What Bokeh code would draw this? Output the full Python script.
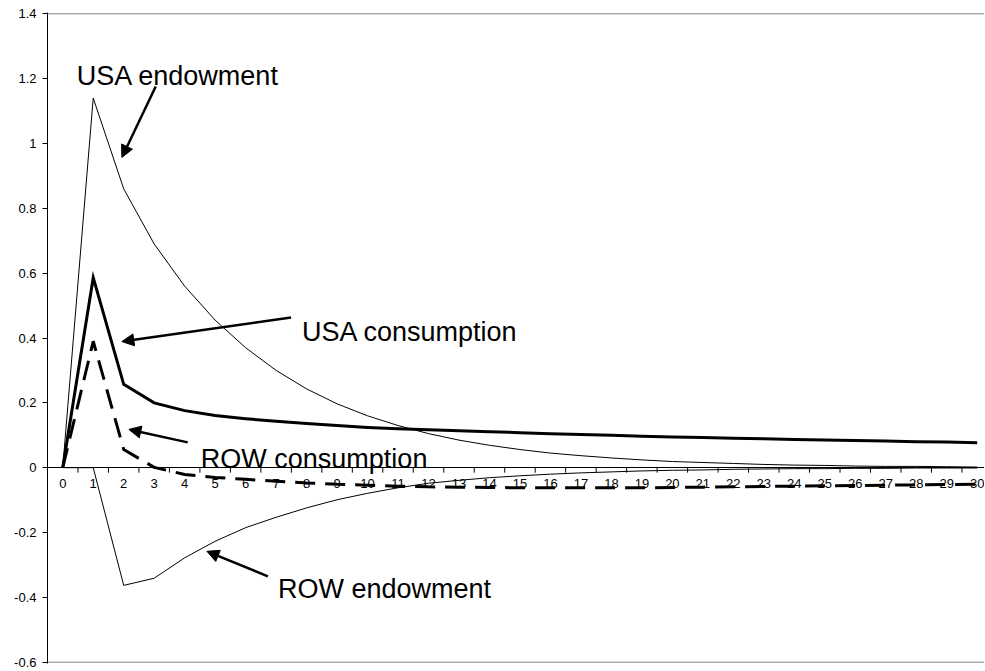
from bokeh.plotting import figure
from bokeh.models import (ColumnDataSource, LinearAxis, FixedTicker, Span, Arrow,
                          NormalHead, CustomJSTickFormatter, Range1d)
from bokeh.core.properties import value
from bokeh.embed import file_html
from bokeh.resources import INLINE

# ---- data ----
periods = list(range(0, 31))

usa_endowment = [0, 1.14, 0.86, 0.69, 0.56, 0.455, 0.37, 0.30, 0.243, 0.197, 0.16,
                 0.13, 0.105, 0.085, 0.069, 0.056, 0.045, 0.037, 0.03, 0.024, 0.019,
                 0.016, 0.013, 0.01, 0.008, 0.007, 0.005, 0.004, 0.004, 0.003, 0.002]

usa_consumption = [0, 0.586, 0.257, 0.200, 0.176, 0.161, 0.151, 0.143, 0.136, 0.130, 0.124,
                   0.120, 0.117, 0.114, 0.111, 0.108, 0.105, 0.102, 0.100, 0.097, 0.095,
                   0.093, 0.091, 0.089, 0.087, 0.085, 0.084, 0.082, 0.080, 0.079, 0.077]

row_consumption = [0, 0.39, 0.056, 0.001, -0.021, -0.030, -0.036, -0.042, -0.047, -0.051, -0.054,
                   -0.057, -0.059, -0.060, -0.061, -0.062, -0.062, -0.062, -0.062, -0.062, -0.061,
                   -0.060, -0.059, -0.058, -0.057, -0.056, -0.055, -0.054, -0.053, -0.052, -0.051]

row_endowment = [0, 0, -0.363, -0.341, -0.278, -0.227, -0.185, -0.153, -0.124, -0.099, -0.079,
                 -0.062, -0.048, -0.039, -0.031, -0.025, -0.020, -0.016, -0.013, -0.010, -0.008,
                 -0.007, -0.005, -0.004, -0.003, -0.003, -0.002, -0.002, -0.001, -0.001, -0.001]

y_ticks = [-0.6, -0.4, -0.2, 0, 0.2, 0.4, 0.6, 0.8, 1.0, 1.2, 1.4]

# annotation texts and positions (data units)
note_text = ["USA endowment", "USA consumption", "ROW consumption", "ROW endowment"]
note_x = [0.46, 7.85, 4.53, 7.06]
note_y = [1.207, 0.417, 0.028, -0.373]

arrow_x_start = [3.05, 7.49, 4.10, 6.73]
arrow_y_start = [1.176, 0.463, 0.078, -0.335]
arrow_x_end = [1.94, 1.94, 2.17, 4.73]
arrow_y_end = [0.957, 0.389, 0.118, -0.258]

FONT = "Liberation Sans"
Y0, Y1 = -0.604, 1.404
FRAME_H = 651

p = figure(frame_width=937, frame_height=FRAME_H,
           x_range=Range1d(-0.5, 30.24), y_range=Range1d(Y0, Y1),
           x_axis_type=None, output_backend="svg", toolbar_location=None,
           min_border_left=47, min_border_right=0, min_border_top=12, min_border_bottom=7,
           background_fill_color="white", border_fill_color="white")
p.outline_line_color = None
p.xgrid.visible = False
p.ygrid.visible = False

# y axis
yax = p.yaxis[0]
yax.ticker = FixedTicker(ticks=y_ticks)
yax.formatter = CustomJSTickFormatter(code="return String(Math.round(tick*10)/10);")
yax.major_tick_out = 5
yax.major_tick_in = 0
yax.minor_tick_line_color = None
yax.axis_line_color = "black"
yax.major_tick_line_color = "black"
yax.major_label_text_font = FONT
yax.major_label_text_font_size = "13px"
yax.major_label_text_color = "black"
yax.major_label_standoff = 6

# plot area border lines (top and bottom)
p.add_layout(Span(location=y_ticks[-1], dimension="width", line_color="#808080", line_width=1))
p.add_layout(Span(location=y_ticks[0], dimension="width", line_color="#808080", line_width=1))

# x axis crossing at zero: labels at categories (drawn beneath the series)
xl = LinearAxis(fixed_location=0, ticker=FixedTicker(ticks=periods), level="underlay")
xl.major_tick_line_color = None
xl.major_tick_out = 0
xl.major_tick_in = 0
xl.minor_tick_line_color = None
xl.axis_line_color = "black"
xl.major_label_text_font = FONT
xl.major_label_text_font_size = "13px"
xl.major_label_text_color = "black"
xl.major_label_standoff = 11
p.add_layout(xl, "below")

# tick marks at category boundaries, 5 px long downward
boundaries = [t + 0.5 for t in periods[:-1]]
tick_len = (Y1 - Y0) / FRAME_H * 5
p.segment(x0=boundaries, y0=[0] * len(boundaries), x1=boundaries,
          y1=[-tick_len] * len(boundaries), line_color="black", line_width=1)

src = ColumnDataSource(dict(t=periods, ue=usa_endowment, uc=usa_consumption,
                            rc=row_consumption, re=row_endowment))

p.line("t", "ue", source=src, line_color="black", line_width=1)
p.line("t", "re", source=src, line_color="black", line_width=1)
p.line("t", "uc", source=src, line_color="black", line_width=3, line_join="miter")
p.line("t", "rc", source=src, line_color="black", line_width=3, line_dash="20 10",
       line_cap="butt")

# annotations
arr_src = ColumnDataSource(dict(xs=arrow_x_start, ys=arrow_y_start, xe=arrow_x_end, ye=arrow_y_end))
p.add_layout(Arrow(end=NormalHead(size=12, fill_color="black", line_color="black", line_width=1),
                   x_start="xs", y_start="ys", x_end="xe", y_end="ye", source=arr_src,
                   line_color="black", line_width=2.5))

note_src = ColumnDataSource(dict(x=note_x, y=note_y, text=note_text))
p.text("x", "y", text="text", source=note_src, text_font=value(FONT),
       text_font_size=value("27px"), text_color="black",
       text_align="left", text_baseline="alphabetic")

open("out.html", "w").write(file_html(p, INLINE))
